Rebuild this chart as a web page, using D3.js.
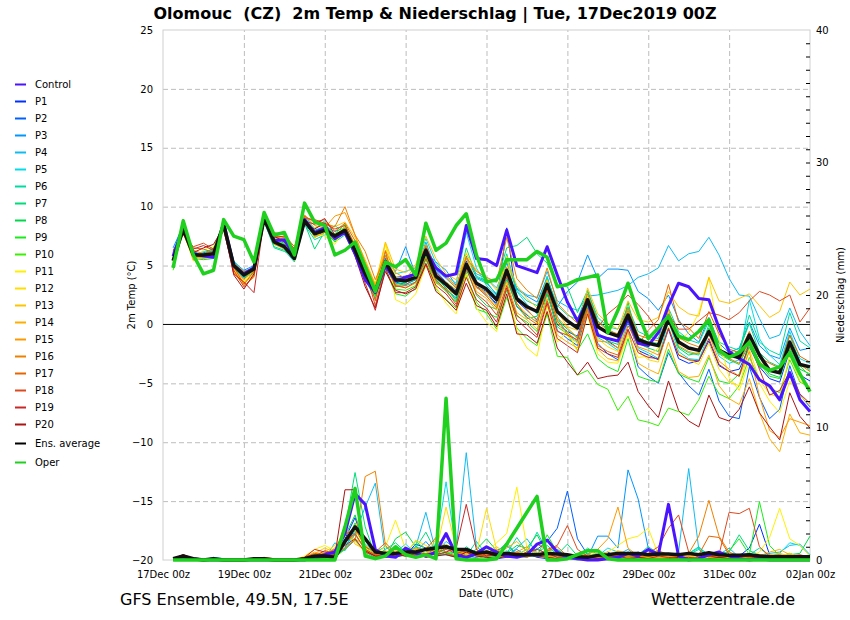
<!DOCTYPE html>
<html>
<head>
<meta charset="utf-8">
<title>Olomouc GFS Ensemble</title>
<script src="https://cdn.jsdelivr.net/npm/d3@7"></script>
<style>
  body { margin: 0; background: #ffffff; }
  svg { font-family: "DejaVu Sans", sans-serif; }
</style>
</head>
<body>
<svg id="chart" width="850" height="620"></svg>
<script>
"use strict";

// run start, values are every 6 hours from +6h to +384h
var runStart = Date.UTC(2019, 11, 17, 0);
var stepHours = 6;

var memberNames = ["P1", "P2", "P3", "P4", "P5", "P6", "P7", "P8", "P9", "P10",
                   "P11", "P12", "P13", "P14", "P15", "P16", "P17", "P18", "P19", "P20"];
var memberColors = ["#0030ff", "#0060ff", "#0096ff", "#10bbf0", "#00dde8", "#00dca0", "#00dc78", "#00d84a", "#18ec18", "#38f000",
                    "#fff000", "#ffde00", "#ffc400", "#ffae00", "#ff9800", "#ee8000", "#e86400", "#dc4a20", "#c82828", "#aa1414"];

// 2m temperature (°C)
var tempControl = [5.8, 8.3, 6.0, 5.8, 5.7, 8.6, 5.0, 4.3, 4.8, 9.2, 7.1, 7.2, 5.8, 8.9, 7.8, 8.2, 7.3, 7.8, 6.0, 3.8, 2.7, 5.0, 3.7, 4.0, 4.3, 6.3, 4.8, 4.1, 4.3, 8.4, 5.6, 5.5, 5.0, 8.0, 5.0, 4.7, 4.4, 6.6, 4.2, 1.9, 0.3, 2.0, -0.9, -1.2, -1.4, 0.5, -1.6, -1.8, -0.7, 1.6, 3.5, 3.2, 2.2, 2.1, -0.3, -2.3, -2.9, -3.4, -4.7, -5.2, -6.4, -4.1, -6.4, -7.4];

var tempMembers = [
  [5.9, 8.0, 6.2, 5.8, 5.8, 8.3, 5.2, 4.4, 4.9, 8.9, 6.9, 6.8, 5.7, 8.6, 7.5, 7.9, 7.6, 8.1, 6.0, 4.0, 2.6, 5.6, 4.0, 4.1, 4.3, 6.6, 4.5, 3.6, 2.9, 5.4, 3.4, 2.5, 1.8, 8.2, 2.0, 1.2, 0.4, 2.6, 0.0, -0.6, -1.0, 1.8, -0.8, -1.4, -2.0, 0.3, -2.2, -2.6, -3.0, -0.4, -2.9, -3.3, -3.1, -1.4, -3.5, -4.0, -3.8, -1.9, -3.6, -4.6, -4.9, -2.2, -4.3, -4.8],
  [5.6, 8.2, 5.7, 6.1, 6.2, 8.6, 4.8, 3.9, 4.5, 9.2, 7.2, 6.5, 5.4, 9.0, 7.9, 8.2, 7.3, 7.9, 6.5, 4.6, 3.1, 5.0, 3.6, 3.4, 3.8, 6.9, 4.3, 3.0, 2.2, 4.8, 3.2, 2.8, 1.6, 4.0, 1.5, 0.8, 0.2, 2.9, -0.5, -1.2, -1.8, 1.2, -1.6, -2.5, -3.0, -0.5, -3.6, -4.4, -5.0, -2.4, -4.1, -5.2, -6.0, -3.8, -6.5, -7.8, -8.0, -3.6, -6.2, -8.0, -7.2, -3.5, -6.0, -7.0],
  [6.5, 8.4, 6.0, 5.9, 6.1, 8.4, 5.3, 4.6, 5.0, 9.1, 7.3, 6.9, 5.9, 9.1, 8.0, 8.3, 7.9, 8.2, 6.6, 4.5, 2.9, 5.5, 4.5, 6.6, 4.2, 6.1, 5.3, 4.6, 3.3, 5.8, 4.0, 3.6, 2.5, 5.3, 3.0, 2.4, 1.9, 4.0, 1.5, 2.8, 3.6, 5.9, 3.9, 4.7, 4.7, 4.6, 2.8, 2.2, 1.2, 2.5, 0.4, -0.8, -1.5, 0.6, -1.6, -2.4, -2.0, 0.2, -1.8, -2.6, -2.9, -0.3, -2.2, -2.0],
  [6.2, 8.2, 6.1, 6.0, 5.9, 8.7, 5.1, 4.3, 4.9, 8.8, 7.0, 6.4, 5.5, 8.9, 7.6, 8.1, 7.4, 8.1, 6.4, 4.4, 3.0, 5.2, 3.9, 3.9, 4.4, 7.0, 4.6, 3.9, 3.1, 5.6, 4.3, 3.9, 3.1, 5.2, 3.1, 2.5, 2.3, 4.5, 2.0, 1.5, 1.2, 2.4, 2.5, 2.7, 2.9, 3.3, 4.0, 4.3, 4.8, 6.7, 5.4, 6.0, 6.2, 7.4, 5.9, 3.9, 2.5, 2.4, 0.5, -1.2, -0.9, 1.4, -0.6, -1.8],
  [5.5, 8.0, 5.8, 6.2, 6.3, 8.6, 5.4, 4.5, 4.8, 9.1, 7.4, 7.0, 5.8, 9.3, 8.1, 8.8, 7.2, 8.4, 6.8, 4.9, 3.3, 5.9, 4.3, 4.5, 4.8, 7.3, 5.2, 4.1, 3.5, 7.8, 4.8, 3.3, 2.4, 5.7, 2.8, 1.7, 0.9, 4.1, 0.7, -0.9, -1.5, 1.5, -1.1, -1.6, -2.2, 0.2, -2.0, -2.4, -2.9, 0.3, -2.3, -2.9, -3.0, -0.8, -2.7, -3.3, -3.0, 2.1, -1.2, -2.6, -3.4, -0.6, -2.9, -3.3],
  [5.7, 8.5, 6.1, 5.7, 6.4, 8.3, 5.0, 4.0, 4.6, 8.7, 6.6, 6.3, 5.3, 8.5, 7.2, 7.6, 8.4, 7.7, 6.1, 4.0, 2.5, 4.9, 3.5, 3.3, 3.6, 5.9, 3.7, 2.9, 2.3, 4.5, 3.9, 3.5, 2.6, 6.0, 2.9, 2.0, 1.6, 3.9, 1.6, 0.8, 0.4, 2.8, 0.6, -0.2, -0.4, 1.5, -0.6, -1.0, -1.2, 1.4, -0.6, -1.3, -1.6, 0.3, -1.5, -1.9, -2.2, 0.8, -1.5, -2.2, -2.6, 1.0, -1.4, -2.0],
  [5.0, 8.6, 5.6, 5.5, 5.6, 8.2, 4.8, 4.0, 4.3, 8.8, 6.5, 6.2, 5.8, 8.6, 6.4, 7.9, 7.0, 7.6, 5.9, 3.8, 2.2, 5.0, 3.2, 3.5, 4.6, 6.1, 3.9, 3.3, 2.8, 6.5, 4.1, 3.7, 3.6, 6.5, 6.7, 7.4, 6.0, 5.2, 3.3, 3.2, 1.0, 2.9, 0.3, -0.4, -0.9, 1.2, -1.1, -1.5, -1.6, 0.9, -1.9, -2.4, -2.6, 0.0, -2.1, -2.8, -2.2, 0.1, -2.4, -3.2, -3.6, -0.9, -3.2, -3.9],
  [4.8, 8.4, 5.5, 6.0, 6.5, 8.5, 4.9, 4.2, 4.6, 9.3, 7.1, 6.7, 5.5, 8.7, 7.8, 8.1, 7.3, 8.3, 6.2, 4.3, 2.7, 5.2, 3.4, 3.6, 3.8, 6.4, 3.9, 3.1, 2.0, 4.9, 2.5, 1.6, 1.3, 3.8, 1.6, 0.5, 0.7, 3.0, 0.4, -0.4, -1.2, 1.6, -0.7, -1.4, -1.7, 1.9, -1.6, -2.0, -2.3, 0.6, -2.0, -2.6, -2.4, -0.3, -2.5, -3.0, -3.4, -1.6, -3.1, -4.2, -4.5, -2.0, -3.8, -4.2],
  [5.2, 8.3, 5.9, 5.6, 6.1, 8.5, 5.1, 4.1, 4.9, 9.4, 7.0, 6.9, 5.7, 9.0, 7.9, 8.3, 7.7, 8.5, 6.6, 4.1, 2.4, 4.7, 2.6, 2.4, 3.1, 5.5, 3.6, 2.8, 1.9, 4.4, 1.3, 1.0, 0.6, 2.9, 0.7, 0.2, -0.6, 2.6, -0.2, -0.8, -2.2, -0.8, -2.9, -3.6, -4.0, -1.2, -4.4, -4.7, -4.9, -2.1, -4.2, -4.6, -4.9, -2.8, -4.8, -5.0, -4.2, -1.9, -3.3, -4.4, -4.6, -1.8, -3.5, -4.4],
  [4.6, 8.9, 5.8, 5.9, 5.7, 8.8, 5.0, 4.4, 4.4, 9.0, 6.8, 6.5, 5.6, 8.8, 7.4, 7.8, 7.1, 7.8, 6.3, 4.2, 2.6, 5.4, 3.0, 2.9, 3.3, 5.8, 3.0, 2.1, 1.4, 4.2, 1.9, 0.9, -0.4, 2.3, -0.3, -1.2, -1.8, 0.9, -2.7, -2.8, -4.3, -3.9, -5.1, -5.5, -7.3, -6.1, -8.1, -8.3, -8.6, -7.1, -7.4, -7.7, -6.4, -4.4, -5.9, -6.3, -5.2, -2.8, -4.6, -5.4, -5.8, -3.0, -4.9, -5.3],
  [5.1, 7.8, 5.6, 6.3, 6.6, 8.1, 4.6, 3.7, 4.6, 8.6, 7.5, 7.4, 6.0, 8.6, 7.7, 7.5, 6.8, 8.2, 6.9, 5.1, 3.5, 6.8, 2.1, 1.7, 2.6, 5.0, 3.2, 1.8, 0.9, 4.3, 1.4, 0.2, -0.6, 3.4, -0.5, -2.0, -2.7, 1.6, -1.5, -0.6, -2.3, 0.8, -2.5, -3.2, -3.3, -0.9, -2.8, -2.7, -2.0, 1.2, -1.4, -0.7, 1.0, 4.0, -1.3, -4.5, -5.6, -3.2, -5.0, -6.5, -7.5, -4.8, -6.1, -6.8],
  [5.3, 8.0, 5.9, 5.9, 5.8, 8.4, 4.5, 3.6, 4.4, 9.1, 7.3, 7.0, 5.4, 8.8, 7.5, 8.0, 7.6, 8.3, 6.1, 4.0, 2.7, 6.9, 4.0, 3.8, 4.5, 6.8, 4.1, 3.6, 3.0, 6.1, 3.4, 2.6, 1.5, 5.8, 1.8, 0.9, 0.1, 3.4, 0.2, -1.0, -1.6, 2.4, -1.2, -1.9, -2.3, 0.6, -2.2, -3.0, -3.2, -0.2, -2.5, -3.0, -3.4, -1.6, -3.8, -4.9, -5.2, -2.1, -4.7, -5.9, -6.2, -2.6, -4.8, -5.3],
  [5.6, 7.9, 5.4, 5.7, 6.0, 8.6, 4.6, 3.5, 4.2, 9.4, 7.6, 7.1, 6.1, 9.0, 8.2, 8.6, 8.3, 8.7, 7.4, 5.5, 3.4, 7.0, 4.7, 4.4, 5.1, 7.5, 5.6, 4.3, 3.8, 6.0, 4.6, 3.9, 2.9, 5.5, 3.3, 2.2, 1.4, 3.8, 1.1, -0.2, -0.5, 3.1, 0.9, 0.1, -0.4, 2.0, 0.4, 0.2, 0.6, 2.8, 1.5, 0.9, 0.7, 4.0, 2.0, 1.8, 2.2, 2.6, 1.6, 0.6, 1.1, 3.6, 2.5, 3.0],
  [5.4, 8.1, 5.8, 5.6, 5.7, 8.8, 4.4, 3.3, 4.0, 9.0, 6.8, 6.4, 5.6, 9.0, 7.4, 7.8, 7.2, 8.0, 6.2, 4.5, 3.0, 5.1, 3.4, 3.1, 3.5, 6.0, 3.5, 3.0, 2.5, 5.2, 2.8, 2.2, 1.2, 3.6, 1.0, 0.4, -0.4, 2.2, -0.9, -1.5, -2.0, 1.0, -2.1, -2.9, -3.1, -0.6, -3.3, -3.8, -4.2, -1.5, -4.0, -4.5, -4.4, -2.6, -5.2, -6.3, -6.8, -4.6, -7.5, -9.7, -10.8, -7.6, -9.2, -9.4],
  [6.0, 7.7, 5.7, 5.8, 6.0, 8.6, 4.7, 3.8, 4.7, 9.1, 7.5, 7.2, 5.9, 9.3, 8.4, 8.2, 9.2, 9.5, 7.6, 5.3, 3.3, 6.3, 4.4, 3.9, 4.9, 6.7, 4.9, 4.2, 3.2, 5.7, 3.1, 2.7, 2.2, 4.9, 2.3, 1.3, 0.3, 3.0, 0.6, -0.3, -1.1, 1.2, -1.4, -1.5, -2.0, 1.1, -1.9, -2.2, -2.6, 1.3, -1.8, -2.3, -2.5, -0.8, -3.1, -3.8, -4.4, -2.3, -6.1, -9.0, -9.6, -8.0, -8.3, -8.6],
  [5.8, 8.2, 6.3, 6.0, 6.2, 8.6, 5.2, 4.5, 4.8, 9.0, 7.2, 7.4, 6.4, 9.1, 8.8, 8.5, 8.3, 10.0, 7.6, 6.2, 3.8, 5.8, 3.9, 3.6, 4.6, 6.7, 4.8, 4.0, 3.1, 5.7, 4.5, 4.0, 3.6, 7.4, 3.9, 2.9, 2.2, 4.8, 1.8, 0.9, 0.1, 2.6, 0.2, -0.5, -0.8, 1.4, -0.9, -1.2, -1.4, 0.9, -1.1, -1.6, -1.9, -0.5, -2.4, -2.9, -3.3, -1.3, -3.2, -3.8, -4.2, -1.9, -3.4, -4.0],
  [5.9, 7.9, 6.5, 6.4, 6.1, 8.2, 4.9, 3.4, 4.5, 9.2, 7.8, 7.6, 6.6, 9.2, 8.7, 8.9, 7.9, 8.6, 7.1, 5.0, 2.0, 6.2, 3.2, 3.3, 4.1, 6.3, 4.4, 3.5, 2.7, 5.0, 3.2, 2.4, 1.4, 4.1, 1.8, 0.6, 0.0, 3.0, 0.3, -0.7, -1.4, 1.4, -1.8, -2.3, -2.6, -0.1, -1.7, -0.5, 0.4, 3.4, 0.2, -0.3, -1.2, 1.1, -0.8, -2.1, -2.4, -0.6, -2.8, -3.3, -3.7, -0.9, -2.7, -3.2],
  [6.3, 7.6, 6.6, 6.9, 6.4, 8.0, 4.6, 3.2, 4.1, 8.9, 7.7, 7.8, 6.2, 9.0, 8.9, 8.6, 8.1, 8.4, 6.7, 4.6, 1.6, 5.1, 3.3, 3.1, 3.6, 5.6, 3.8, 2.9, 1.7, 4.7, 2.6, 1.9, 0.8, 3.3, 0.8, 0.0, -0.9, 2.0, -0.6, -0.9, -1.3, 1.9, -0.3, 0.9, 1.6, 2.5, 1.7, 0.7, -0.6, 0.9, -0.4, -0.4, 0.3, 1.0, 0.8, 0.4, 1.0, 2.0, 2.8, 2.5, 2.0, 2.5, 0.2, 1.4],
  [6.1, 7.8, 6.4, 6.7, 6.3, 8.1, 4.3, 3.6, 2.7, 9.0, 7.4, 7.5, 6.4, 8.8, 8.5, 9.0, 7.6, 8.1, 6.0, 3.5, 1.2, 4.8, 2.7, 2.7, 3.2, 5.2, 3.3, 2.6, 1.5, 4.0, 2.1, 1.4, 0.2, 3.1, 0.4, -0.4, -1.1, 1.8, -1.2, -1.8, -2.4, 0.9, -2.0, -2.5, -2.8, -0.4, -2.4, -2.8, -2.9, -0.3, -2.6, -3.0, -3.1, -1.2, -3.4, -4.0, -4.4, -1.5, -3.8, -6.0, -5.6, -4.0, -5.9, -6.7],
  [5.5, 8.0, 6.1, 6.5, 6.8, 8.3, 4.2, 3.0, 4.3, 8.6, 7.5, 7.0, 5.9, 8.5, 8.1, 8.6, 7.2, 7.8, 5.8, 3.2, 1.4, 4.5, 2.9, 2.6, 3.0, 5.1, 2.8, 2.1, 1.2, 3.5, 1.6, 1.2, -0.2, 2.6, -0.8, -0.9, -1.6, 1.1, -2.0, -3.2, -4.3, -3.2, -4.6, -4.4, -4.3, -3.2, -5.7, -6.9, -7.9, -4.8, -7.3, -8.2, -8.7, -6.0, -7.9, -8.2, -7.2, -5.3, -7.5, -8.7, -9.8, -5.8, -7.8, -8.8]
];

var tempAverage = [5.4, 8.1, 5.9, 5.9, 6.0, 8.5, 5.0, 4.2, 4.7, 9.0, 7.0, 6.6, 5.6, 8.8, 7.7, 8.0, 7.5, 8.0, 6.3, 4.3, 2.8, 5.3, 3.8, 3.7, 4.0, 6.3, 4.1, 3.4, 2.6, 5.1, 3.5, 3.0, 2.1, 4.6, 2.2, 1.5, 1.1, 3.4, 1.1, 0.3, -0.3, 2.1, -0.2, -0.7, -1.0, 0.8, -1.3, -1.6, -1.8, 0.5, -1.5, -2.0, -2.2, -0.6, -2.2, -2.6, -2.8, -0.9, -2.6, -3.9, -4.1, -1.5, -3.4, -3.6];

var tempOper = [4.8, 8.8, 5.9, 4.3, 4.6, 8.9, 7.5, 7.2, 5.3, 9.5, 7.6, 7.8, 5.9, 10.3, 8.7, 8.4, 5.9, 6.3, 7.0, 4.9, 2.8, 5.3, 4.9, 5.5, 4.2, 8.6, 6.3, 6.9, 8.4, 9.4, 5.9, 3.6, 3.8, 5.5, 5.5, 5.5, 6.2, 5.7, 3.2, 3.4, 3.8, 4.0, 4.2, -0.7, 1.2, 3.5, 0.9, -1.2, -0.3, 0.7, -1.0, -1.3, -0.6, 0.4, -2.2, -2.8, -2.4, -1.5, -3.4, -3.9, -3.6, -2.4, -4.2, -5.7];

// precipitation (mm per 6 h)
var precipControl = [0.1, 0.2, 0.1, 0, 0, 0, 0, 0, 0, 0, 0, 0, 0, 0, 0.2, 0.4, 0.6, 2.0, 5.0, 4.2, 0.8, 0.3, 0.2, 0.9, 0.5, 0.3, 0.6, 2.0, 0.4, 0.2, 0.5, 1.0, 0.6, 0.3, 0.2, 0.4, 1.2, 1.5, 0.6, 0.2, 0.1, 0, 0, 0.1, 0.2, 0.5, 0.3, 0.8, 0.4, 4.2, 0.3, 0, 0.1, 0.4, 0.6, 0.3, 0.1, 0, 0.1, 0, 0, 0, 0, 0];

var precipMembers = [
  [0, 0.1, 0, 0, 0, 0, 0, 0, 0, 0, 0, 0, 0, 0, 0.1, 0.2, 0.4, 1.6, 3.2, 0.9, 0.3, 0.6, 0.2, 0.4, 1.2, 0.9, 0.3, 0.6, 0.2, 0.1, 0.4, 0.2, 0.1, 0.2, 0.3, 0.5, 0.2, 0.1, 0.3, 0.2, 0.1, 0.3, 0.4, 0.6, 0.2, 0.3, 0, 0, 0.2, 0.1, 0.2, 0.3, 0.1, 0, 0.2, 0.1, 0.3, 0.9, 2.7, 0.4, 0.2, 0.1, 0, 0],
  [0, 0, 0, 0, 0, 0, 0, 0, 0, 0, 0, 0, 0, 0, 0.3, 0.5, 0.2, 0.9, 2.4, 1.7, 0.5, 0.2, 0.4, 0.9, 0.3, 0.4, 0.8, 1.2, 0.5, 0.3, 0.2, 0.4, 0.7, 1.1, 0.4, 0.2, 0.8, 1.4, 2.4, 5.2, 1.6, 0.4, 0.3, 0.1, 0.1, 0.3, 0.6, 0.1, 0, 0.2, 0.4, 0.1, 0, 0.1, 0.3, 0.2, 0, 0.1, 0.4, 0.2, 0.1, 0, 0, 0.2],
  [0, 0, 0, 0, 0, 0, 0, 0, 0, 0, 0, 0, 0, 0, 0.1, 0.2, 0.5, 0.8, 1.5, 0.6, 0.2, 0.5, 0.9, 0.3, 0.6, 1.4, 0.5, 0.4, 0.3, 0.7, 0.3, 0.5, 0.2, 0.4, 0.8, 0.3, 0.3, 0.6, 0.2, 0.1, 0.1, 0.2, 1.8, 1.8, 0.9, 6.8, 4.6, 0.9, 0.2, 0.1, 0.3, 0.1, 0.2, 0.3, 0.1, 0.2, 0.1, 0, 0.3, 0.2, 0.1, 0.1, 0, 0],
  [0, 0, 0, 0, 0.1, 0, 0, 0, 0, 0, 0, 0, 0, 0, 0.2, 0.1, 1.3, 0.7, 2.0, 4.0, 5.8, 0.4, 0.3, 0.6, 1.0, 3.6, 0.6, 1.4, 0.8, 8.1, 1.0, 0.4, 0.6, 0.3, 0.9, 1.6, 0.5, 0.3, 0.8, 0.2, 0.1, 0.3, 0.2, 0.1, 0.4, 0.8, 0.2, 0.2, 0.1, 0.3, 0.6, 6.9, 0.8, 0.2, 0.4, 0.9, 0.2, 0.1, 0.3, 0.5, 0.6, 1.1, 1.2, 0.4],
  [0, 0, 0, 0, 0.2, 0.1, 0, 0, 0, 0, 0, 0, 0, 0, 0.1, 0.3, 0.8, 1.1, 1.9, 0.8, 0.4, 0.3, 0.6, 1.2, 0.5, 0.9, 1.1, 5.9, 0.7, 0.4, 0.6, 0.3, 0.4, 0.7, 0.3, 0.2, 0.9, 0.4, 0.2, 0.3, 0.2, 0.1, 0.3, 0.9, 0.6, 0.5, 0.3, 0.2, 0.6, 0.4, 0.3, 0.5, 0.9, 0.4, 0.2, 0.3, 0.1, 0.2, 0.4, 0.3, 0.5, 1.3, 1.1, 0.3],
  [0, 0, 0, 0, 0.2, 0, 0, 0, 0, 0, 0, 0, 0, 0, 0, 0.2, 0.3, 0.9, 2.2, 1.2, 0.6, 1.0, 0.4, 0.3, 0.8, 0.4, 1.2, 0.5, 0.6, 0.3, 1.4, 0.4, 0.2, 0.5, 1.7, 0.6, 2.1, 0.7, 0.8, 0.3, 0.2, 0.9, 0.4, 0.2, 0.5, 0.3, 0.1, 0.2, 0.3, 0.4, 0.2, 0.5, 1.0, 0.3, 0.1, 0.2, 0.1, 0.4, 0.9, 0.3, 0.1, 0.5, 0.2, 0.4],
  [0, 0, 0, 0, 0.1, 0, 0, 0, 0, 0, 0, 0, 0, 0, 0, 0.1, 0.4, 2.4, 6.6, 2.5, 0.3, 0.8, 1.3, 0.6, 0.9, 2.1, 0.6, 0.4, 0.2, 1.0, 0.5, 0.2, 0.6, 1.3, 0.4, 0.8, 0.5, 1.1, 0.4, 1.2, 0.3, 0.1, 0.2, 0.2, 0.3, 0.1, 0.4, 1.0, 0.5, 0.2, 0.1, 0.4, 0.8, 0.3, 0.5, 0.6, 1.9, 0.7, 0.4, 0.1, 0.2, 0.1, 0.3, 0.2],
  [0, 0, 0, 0, 0, 0, 0, 0, 0, 0, 0, 0, 0, 0, 0.1, 0.2, 0.5, 1.8, 3.4, 1.0, 0.4, 0.2, 1.6, 2.1, 1.0, 0.7, 0.4, 0.9, 0.6, 0.4, 0.8, 1.6, 0.7, 0.5, 1.1, 0.9, 1.9, 0.5, 0.2, 0.3, 0.2, 0.5, 0.3, 0.2, 0.1, 0.3, 0.2, 0.7, 0.4, 0.5, 0.3, 0.2, 0.2, 0.4, 0.3, 0.4, 0.2, 0.5, 0.2, 0.3, 0.1, 0.4, 0.5, 1.8],
  [0, 0, 0, 0, 0, 0, 0, 0, 0, 0, 0, 0, 0, 0, 0, 0.1, 0.3, 1.2, 2.8, 0.9, 0.2, 0.5, 1.0, 0.4, 0.2, 0.3, 0.8, 0.5, 0.3, 0.6, 0.4, 0.9, 0.5, 0.3, 0.6, 0.4, 0.3, 1.9, 0.6, 0.4, 0.1, 0.2, 0.4, 0.3, 0.2, 0.1, 0.2, 0.3, 0.1, 0.2, 0.4, 0.3, 0.5, 0.2, 0.3, 0.7, 1.6, 0.4, 4.4, 1.1, 0.3, 0.5, 0.2, 0.1],
  [0, 0, 0, 0, 0, 0, 0, 0, 0, 0, 0, 0, 0, 0, 0, 0, 0.2, 0.8, 1.6, 0.5, 0.1, 0.3, 0.9, 0.5, 1.4, 0.8, 0.3, 0.6, 0.4, 0.2, 0.1, 0.3, 0.2, 0.4, 0.3, 0.6, 0.3, 0.2, 0.1, 0.1, 0, 0.1, 0.2, 0.4, 0.1, 0, 0.1, 0.2, 0, 0.1, 0.2, 0.1, 0, 0.3, 0.1, 0.2, 0.1, 0.1, 0.2, 0.3, 0.4, 0.2, 0.1, 0],
  [0, 0, 0, 0, 0, 0, 0, 0, 0, 0, 0, 0, 0, 0.3, 0.8, 1.1, 0.7, 1.5, 2.3, 0.9, 0.4, 1.0, 3.0, 0.8, 0.4, 0.9, 0.5, 1.2, 0.7, 0.5, 0.3, 0.6, 1.3, 2.0, 5.5, 0.9, 0.4, 0.3, 0.5, 0.2, 0.1, 0.2, 0.4, 0.6, 1.1, 1.6, 1.8, 2.4, 0.4, 0.2, 0.1, 0.2, 0.4, 0.1, 0.2, 0.1, 0.3, 0.2, 0.6, 1.7, 3.9, 1.6, 1.1, 0.3],
  [0, 0, 0, 0, 0, 0, 0, 0, 0, 0, 0, 0, 0, 0.2, 0.4, 0.6, 1.1, 1.8, 1.4, 0.6, 0.3, 0.5, 0.8, 0.4, 1.5, 1.1, 0.6, 4.0, 0.9, 0.4, 0.5, 3.9, 0.8, 0.3, 0.6, 0.4, 0.3, 0.7, 0.5, 0.3, 0.2, 0.3, 0.6, 0.2, 0.4, 0.3, 0.5, 0.4, 0.2, 0.3, 0.2, 0.4, 0.3, 0.1, 0.3, 0.2, 0.1, 0.3, 0.4, 0.2, 0.3, 0.5, 0.2, 0.1],
  [0, 0, 0, 0, 0, 0, 0, 0, 0, 0, 0, 0, 0, 0.1, 0.5, 0.9, 0.6, 2.6, 1.2, 0.8, 0.3, 0.7, 0.4, 0.9, 0.5, 0.3, 1.6, 1.0, 0.5, 0.3, 0.6, 0.4, 1.0, 0.5, 0.3, 0.8, 0.6, 0.2, 0.3, 0.4, 0.2, 0.1, 0.3, 0.4, 0.7, 0.5, 0.3, 0.2, 0.4, 0.3, 0.4, 0.3, 0.2, 0.6, 0.4, 0.1, 0.2, 0.3, 0.2, 0.4, 0.5, 0.3, 0.2, 0.3],
  [0, 0, 0, 0, 0, 0, 0, 0, 0, 0, 0, 0, 0, 0.2, 0.6, 0.4, 0.9, 2.1, 1.6, 1.1, 0.5, 0.4, 0.7, 0.3, 0.8, 0.5, 0.9, 1.8, 0.6, 0.3, 0.4, 0.7, 0.5, 0.9, 1.4, 0.6, 0.3, 0.5, 0.4, 0.2, 0.5, 0.3, 0.2, 0.3, 0.5, 0.2, 0.4, 0.3, 0.2, 0.1, 0.2, 0.3, 0.4, 0.2, 0.1, 0.3, 0.2, 0.4, 0.3, 0.6, 0.8, 0.4, 0.3, 0.2],
  [0, 0, 0, 0, 0, 0, 0, 0, 0, 0, 0, 0, 0, 0.1, 0.3, 0.5, 0.8, 1.4, 2.0, 0.7, 0.4, 0.6, 0.3, 0.5, 0.9, 0.7, 0.4, 1.1, 0.8, 0.5, 0.3, 0.5, 0.8, 0.4, 0.6, 1.0, 0.4, 0.3, 0.2, 0.1, 0.2, 0.4, 0.8, 1.6, 4.0, 0.9, 0.3, 0.2, 0.1, 0.2, 0.3, 0.1, 0.2, 0.3, 0.2, 0.1, 0.2, 0.4, 0.2, 0.3, 0.2, 0.1, 0.3, 0.1],
  [0, 0, 0, 0, 0, 0, 0, 0, 0, 0, 0, 0, 0, 0.1, 0.2, 0.3, 0.5, 0.9, 1.5, 6.3, 6.7, 1.1, 0.4, 0.6, 0.3, 0.5, 0.4, 2.0, 0.6, 0.3, 0.5, 0.3, 0.4, 0.6, 0.3, 0.2, 0.5, 0.3, 0.4, 0.2, 0.1, 0.2, 0.3, 0.2, 0.4, 0.3, 0.2, 0.3, 0.1, 0.2, 0.3, 0.5, 1.8, 4.5, 1.8, 0.6, 0.3, 0.2, 0.4, 0.3, 0.2, 0.3, 0.1, 0.2],
  [0, 0, 0, 0, 0, 0, 0, 0, 0.1, 0.2, 0.1, 0, 0, 0.2, 0.5, 0.4, 0.8, 1.9, 2.4, 1.0, 0.6, 1.3, 0.5, 0.3, 0.4, 0.8, 1.7, 0.5, 0.3, 0.6, 0.3, 0.4, 0.3, 0.5, 0.6, 0.3, 0.4, 0.7, 1.0, 0.3, 0.2, 0.3, 0.2, 0.4, 0.3, 0.2, 0.3, 0.5, 0.7, 0.4, 0.3, 0.5, 0.4, 1.8, 1.7, 0.4, 0.3, 0.2, 0.1, 0.3, 0.4, 0.2, 0.1, 0.1],
  [0, 0.1, 0, 0, 0, 0, 0, 0, 0.1, 0.1, 0, 0, 0, 0.1, 0.3, 0.7, 0.5, 1.3, 2.0, 0.8, 0.4, 0.3, 0.5, 0.8, 0.4, 0.9, 0.6, 0.8, 0.5, 0.7, 0.4, 0.3, 0.6, 0.4, 0.3, 0.5, 1.2, 0.8, 1.1, 2.6, 0.8, 0.3, 0.1, 0.2, 0.3, 0.6, 0.4, 0.5, 1.0, 2.4, 3.4, 0.6, 0.2, 0.3, 0.4, 3.6, 3.5, 3.9, 1.0, 0.3, 0.2, 0.3, 0.4, 0.2],
  [0.1, 0.4, 0.1, 0, 0, 0, 0, 0, 0.1, 0.1, 0, 0, 0, 0.2, 0.8, 0.6, 0.4, 1.1, 1.6, 0.6, 0.3, 0.4, 0.2, 0.6, 0.3, 0.5, 0.4, 0.6, 0.9, 4.2, 0.8, 0.3, 0.4, 0.2, 0.3, 0.6, 0.8, 0.5, 0.2, 0.3, 0.1, 0.2, 0.1, 0.2, 0.3, 0.1, 0.2, 0.1, 0.3, 0.2, 0.1, 0.2, 0.1, 0.3, 0.2, 0.1, 0.2, 0.3, 0.1, 0.2, 0.3, 0.1, 0.2, 0.1],
  [0.1, 0.4, 0.1, 0, 0, 0, 0, 0, 0.1, 0, 0, 0, 0, 0, 0.1, 0.2, 0.3, 5.3, 5.3, 0.7, 0.3, 0.2, 0.4, 0.3, 0.5, 0.2, 0.3, 0.4, 0.2, 0.6, 0.3, 0.2, 0.1, 0.3, 0.2, 0.4, 0.3, 0.2, 0.1, 0.2, 0.1, 0, 0.1, 0.2, 0.1, 0, 0.2, 0.1, 0, 0.1, 0.2, 0.1, 0, 0.1, 0.2, 0.1, 0, 0.1, 0.2, 0.1, 0, 0.1, 0.2, 0.1]
];

var precipAverage = [0.1, 0.3, 0.1, 0, 0.1, 0, 0, 0, 0.1, 0.1, 0, 0, 0, 0.1, 0.3, 0.3, 0.2, 1.4, 2.5, 1.6, 0.6, 0.5, 0.5, 0.6, 0.6, 0.8, 0.9, 1.0, 0.8, 0.8, 0.5, 0.6, 0.4, 0.5, 0.4, 0.4, 0.4, 0.5, 0.45, 0.4, 0.25, 0.2, 0.35, 0.4, 0.5, 0.5, 0.5, 0.4, 0.45, 0.45, 0.4, 0.5, 0.4, 0.55, 0.4, 0.35, 0.35, 0.4, 0.3, 0.25, 0.25, 0.25, 0.25, 0.25];

var precipOper = [0, 0, 0, 0, 0, 0, 0, 0, 0, 0, 0, 0, 0, 0, 0, 0, 0, 2.5, 5.4, 0.3, 0.1, 0.3, 1.0, 0.4, 0.2, 0.4, 0.1, 12.2, 0.1, 0, 0, 0, 0.1, 1.2, 2.4, 3.6, 4.8, 0, 0, 0.1, 0.4, 0.7, 0.7, 0.1, 0, 0, 0, 0, 0, 0, 0, 0, 0, 0, 0, 0, 0, 0, 0, 0, 0, 0, 0, 0];

// axis ticks
var dateTicks = ["2019-12-17", "2019-12-19", "2019-12-21", "2019-12-23", "2019-12-25", "2019-12-27", "2019-12-29", "2019-12-31", "2020-01-02"];
var tempTicks = [-20, -15, -10, -5, 0, 5, 10, 15, 20, 25];
var precipTicks = [0, 10, 20, 30, 40];

var ChartApp = function()
{
    var self = this;

    var MARGIN = { TOP: 30, RIGHT: 40, BOTTOM: 60, LEFT: 163 };
    var WIDTH = 647, HEIGHT = 530;
    var FONT = "DejaVu Sans";

    var svg = d3.select("#chart");
    var g = svg.append("g").attr("transform", "translate(" + MARGIN.LEFT + "," + MARGIN.TOP + ")");

    var parseDay = d3.utcParse("%Y-%m-%d");
    var x = d3.scaleUtc()
              .domain([parseDay(dateTicks[0]), parseDay(dateTicks[dateTicks.length - 1])])
              .range([0, WIDTH]);
    var yTemp = d3.scaleLinear().domain([-20, 25]).range([HEIGHT, 0]);
    var yPrecip = d3.scaleLinear().domain([0, 40]).range([HEIGHT, 0]);

    var stepDate = function(i) { return new Date(runStart + (i + 1) * stepHours * 3600 * 1000); };

    self.drawGrid = function()
    {
        // vertical dashed lines every second day
        var vGrid = g.append("g")
                     .attr("transform", "translate(0," + HEIGHT + ")")
                     .call(d3.axisBottom(x)
                             .tickValues(dateTicks.slice(1, -1).map(parseDay))
                             .tickSize(-HEIGHT).tickFormat(""));
        // horizontal dashed lines every 5 degrees
        var hGrid = g.append("g")
                     .call(d3.axisLeft(yTemp)
                             .tickValues(tempTicks.filter(function(d) { return d != 0 && d != -20 && d != 25; }))
                             .tickSize(-WIDTH).tickFormat(""));

        [vGrid, hGrid].forEach(function(grid) {
            grid.select(".domain").remove();
            grid.selectAll("line")
                .attr("stroke", "#bdbdbd")
                .attr("stroke-width", 1)
                .attr("stroke-dasharray", "5,3");
        });

        // light frame
        g.append("rect")
         .attr("x", 0).attr("y", 0)
         .attr("width", WIDTH).attr("height", HEIGHT)
         .attr("fill", "none").attr("stroke", "#d0d0d0");

        // zero degree line
        g.append("line")
         .attr("x1", 0).attr("x2", WIDTH)
         .attr("y1", yTemp(0)).attr("y2", yTemp(0))
         .attr("stroke", "#000").attr("stroke-width", 1);
    };

    self.drawAxes = function()
    {
        var styleAxis = function(sel)
        {
            sel.attr("font-family", FONT).attr("font-size", 10);
            sel.select(".domain").remove();
            sel.selectAll("text").attr("fill", "#000");
        };

        g.append("g")
         .call(d3.axisLeft(yTemp).tickValues(tempTicks).tickSize(0).tickPadding(10))
         .call(styleAxis);

        g.append("g")
         .attr("transform", "translate(" + WIDTH + ",0)")
         .call(d3.axisRight(yPrecip).tickValues(precipTicks).tickSize(0).tickPadding(6))
         .call(styleAxis);

        // small inward ticks every mm on the right side
        g.append("g")
         .attr("transform", "translate(" + WIDTH + ",0)")
         .call(d3.axisLeft(yPrecip).tickValues(d3.range(1, 40)).tickSize(4).tickFormat(""))
         .call(styleAxis)
         .selectAll("line").attr("stroke", "#000");

        g.append("g")
         .attr("transform", "translate(0," + HEIGHT + ")")
         .call(d3.axisBottom(x)
                 .tickValues(dateTicks.map(parseDay))
                 .tickFormat(d3.utcFormat("%d%b %Hz"))
                 .tickSize(0).tickPadding(11))
         .call(styleAxis);
    };

    self.drawSeries = function()
    {
        var tempLine = d3.line()
                         .x(function(d, i) { return x(stepDate(i)); })
                         .y(function(d) { return yTemp(d); });
        var precipLine = d3.line()
                           .x(function(d, i) { return x(stepDate(i)); })
                           .y(function(d) { return yPrecip(d); });

        var addPath = function(values, lineGen, color, width)
        {
            g.append("path")
             .datum(values)
             .attr("d", lineGen)
             .attr("fill", "none")
             .attr("stroke", color)
             .attr("stroke-width", width)
             .attr("stroke-linejoin", "round");
        };

        // thin member lines first
        for (var i = 0; i < tempMembers.length; i++)
        {
            addPath(precipMembers[i], precipLine, memberColors[i], 1);
            addPath(tempMembers[i], tempLine, memberColors[i], 1);
        }

        addPath(precipControl, precipLine, "#4a14ff", 3);
        addPath(tempControl, tempLine, "#4a14ff", 3);
        addPath(precipAverage, precipLine, "#111111", 3.5);
        addPath(tempAverage, tempLine, "#111111", 3.5);
        addPath(precipOper, precipLine, "#1fd01f", 3.5);
        addPath(tempOper, tempLine, "#1fd01f", 3.5);
    };

    self.drawLegend = function()
    {
        var entries = [{ name: "Control", color: "#4a14ff", y: 84 }];
        for (var i = 0; i < memberNames.length; i++)
            entries.push({ name: memberNames[i], color: memberColors[i], y: 101 + i * 17 });
        entries.push({ name: "Ens. average", color: "#000000", y: 443 });
        entries.push({ name: "Oper", color: "#1fd01f", y: 462 });

        var legend = svg.append("g").attr("class", "legend");
        var rows = legend.selectAll("g").data(entries).enter().append("g")
                         .attr("transform", function(d) { return "translate(0," + d.y + ")"; });
        rows.append("line")
            .attr("x1", 15).attr("x2", 26)
            .attr("y1", 0.5).attr("y2", 0.5)
            .attr("stroke", function(d) { return d.color; })
            .attr("stroke-width", 2);
        rows.append("text")
            .attr("x", 35).attr("y", 4)
            .attr("font-family", FONT).attr("font-size", 10)
            .text(function(d) { return d.name; });
    };

    self.drawTexts = function()
    {
        svg.append("text")
           .attr("x", 435).attr("y", 19)
           .attr("text-anchor", "middle")
           .attr("font-family", FONT).attr("font-size", 16).attr("font-weight", "bold")
           .text("Olomouc\u00a0\u00a0(CZ)\u00a0\u00a02m Temp & Niederschlag | Tue, 17Dec2019 00Z");

        svg.append("text")
           .attr("transform", "translate(135,295) rotate(-90)")
           .attr("text-anchor", "middle")
           .attr("font-family", FONT).attr("font-size", 10)
           .text("2m Temp (°C)");

        svg.append("text")
           .attr("transform", "translate(844,295) rotate(-90)")
           .attr("text-anchor", "middle")
           .attr("font-family", FONT).attr("font-size", 10)
           .text("Niederschlag (mm)");

        svg.append("text")
           .attr("x", 486).attr("y", 597)
           .attr("text-anchor", "middle")
           .attr("font-family", FONT).attr("font-size", 10)
           .text("Date (UTC)");

        svg.append("text")
           .attr("x", 120).attr("y", 605)
           .attr("font-family", FONT).attr("font-size", 16)
           .text("GFS Ensemble, 49.5N, 17.5E");

        svg.append("text")
           .attr("x", 795).attr("y", 605)
           .attr("text-anchor", "end")
           .attr("font-family", FONT).attr("font-size", 16)
           .text("Wetterzentrale.de");
    };

    self.draw = function()
    {
        self.drawGrid();
        self.drawSeries();
        self.drawAxes();
        self.drawLegend();
        self.drawTexts();
    };
};

new ChartApp().draw();
</script>
</body>
</html>
